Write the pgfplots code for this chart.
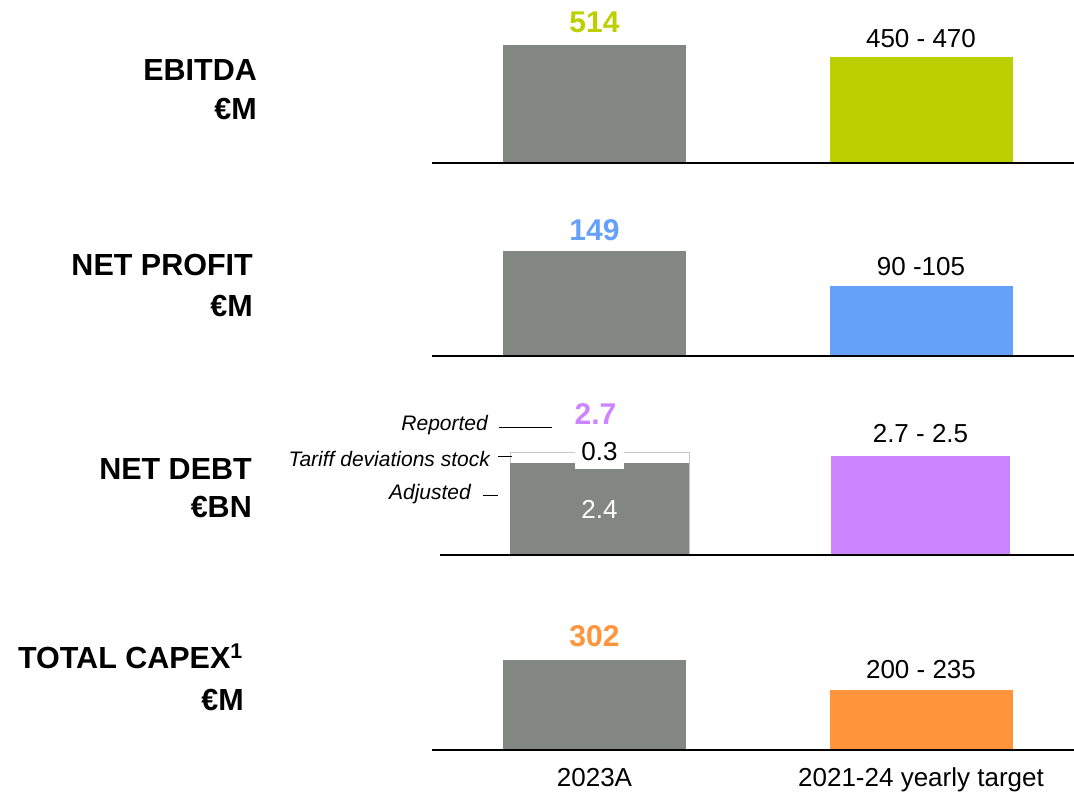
\documentclass[border=0pt]{standalone}
\usepackage{fontspec}
\setmainfont{Liberation Sans}
\usepackage{pgfplots}
\pgfplotsset{compat=1.18}
\definecolor{bargray}{RGB}{131,135,132}
\definecolor{ebgreen}{RGB}{188,208,0}
\definecolor{npblue}{RGB}{102,161,249}
\definecolor{ndpurple}{RGB}{204,133,255}
\definecolor{cxorange}{RGB}{255,148,59}
\newcommand\valfont{\fontsize{30}{36}\selectfont\bfseries}
\newcommand\rngfont{\fontsize{26}{31}\selectfont}
\newcommand\catfont{\fontsize{30.5}{36}\selectfont\bfseries}
\newcommand\annfont{\fontsize{21}{25}\selectfont\itshape}
\pgfplotsset{panel/.style={
  scale only axis, clip=false, axis on top,
  anchor=south west, ybar,
  axis x line=bottom, axis y line=none,
  axis line style={-, line width=2pt, black},
  xtick=\empty, ytick=\empty, ymin=0,
}}
\begin{document}
\begin{tikzpicture}[x=1pt,y=1pt]
\useasboundingbox (0,0) rectangle (1074,-792);
% EBITDA
\begin{axis}[panel, at={(432pt,-162.7pt)}, width=642pt, height=137.4pt,
  xmin=-0.4977, xmax=1.4686, ymax=600, bar width=0.5605]
\addplot[fill=bargray, draw=none, bar shift=0pt] coordinates {(0,514)};
\addplot[fill=ebgreen, draw=none, bar shift=0pt] coordinates {(1,460)};
\node[anchor=base, yshift=12.7pt, font=\valfont, text=ebgreen] at (axis cs:0,514) {514};
\node[anchor=base, yshift=10pt, font=\rngfont] at (axis cs:1,460) {450 - 470};
\end{axis}
% NET PROFIT
\begin{axis}[panel, at={(432pt,-356pt)}, width=642pt, height=126.8pt,
  xmin=-0.4977, xmax=1.4686, ymax=180, bar width=0.5605]
\addplot[fill=bargray, draw=none, bar shift=0pt] coordinates {(0,149)};
\addplot[fill=npblue, draw=none, bar shift=0pt] coordinates {(1,99)};
\node[anchor=base, yshift=11pt, font=\valfont, text=npblue] at (axis cs:0,149) {149};
\node[anchor=base, yshift=11pt, font=\rngfont] at (axis cs:1,99) {90 -105};
\end{axis}
% NET DEBT
\begin{axis}[panel, at={(440pt,-554.5pt)}, width=634pt, height=121.5pt,
  xmin=-0.4969, xmax=1.4782, ymax=3.2, bar width=0.5576]
\addplot[fill=white, draw=gray!45, line width=0.8pt, bar shift=0pt] coordinates {(0,2.7)};
\addplot[fill=bargray, draw=none, bar shift=0pt] coordinates {(0,2.4)};
\addplot[fill=ndpurple, draw=none, bar shift=0pt] coordinates {(1,2.6)};
\node[anchor=base, fill=white, inner xsep=6.5pt, inner ysep=8.3pt, font=\rngfont] at (axis cs:0,2.471) {0.3};
\node[anchor=base, text=white, font=\rngfont] at (axis cs:0,0.96) {2.4};
\node[anchor=base, xshift=-4pt, yshift=27pt, font=\valfont, text=ndpurple] at (axis cs:0,2.7) {2.7};
\node[anchor=base, yshift=13pt, font=\rngfont] at (axis cs:1,2.6) {2.7 - 2.5};
\end{axis}
% TOTAL CAPEX
\begin{axis}[panel, at={(432pt,-750pt)}, width=642pt, height=107.3pt,
  xmin=-0.4977, xmax=1.4686, ymax=360, bar width=0.5605,
  xtick={0,1}, xticklabels={2023A,2021-24 yearly target}, major tick length=0pt,
  xticklabel style={anchor=base, yshift=-36pt, font=\rngfont}]
\addplot[fill=bargray, draw=none, bar shift=0pt] coordinates {(0,302)};
\addplot[fill=cxorange, draw=none, bar shift=0pt] coordinates {(1,200)};
\node[anchor=base, yshift=13pt, font=\valfont, text=cxorange] at (axis cs:0,302) {302};
\node[anchor=base, yshift=12pt, font=\rngfont] at (axis cs:1,200) {200 - 235};
\end{axis}
% category labels
\node[anchor=base east, font=\catfont, inner sep=0pt] at (257,-81) {EBITDA};
\node[anchor=base east, font=\catfont, inner sep=0pt] at (257,-119) {€M};
\node[anchor=base east, font=\catfont, inner sep=0pt] at (253,-275) {NET PROFIT};
\node[anchor=base east, font=\catfont, inner sep=0pt] at (253,-316) {€M};
\node[anchor=base east, font=\catfont, inner sep=0pt] at (252,-479) {NET DEBT};
\node[anchor=base east, font=\catfont, inner sep=0pt] at (252,-517) {€BN};
\node[anchor=base east, font=\catfont, inner sep=0pt] at (243,-668) {TOTAL CAPEX\textsuperscript{1}};
\node[anchor=base east, font=\catfont, inner sep=0pt] at (244,-710) {€M};
% annotations
\node[anchor=base east, font=\annfont, inner sep=0pt] at (488,-430) {Reported};
\draw[line width=1pt] (499,-427) -- (552,-427);
\node[anchor=base east, font=\annfont, inner sep=0pt] at (490,-466) {Tariff deviations stock};
\draw[line width=1pt] (498,-456.7) -- (512,-456.7);
\node[anchor=base east, font=\annfont, inner sep=0pt] at (471,-499) {Adjusted};
\draw[line width=1pt] (483,-495) -- (498,-495);
\end{tikzpicture}
\end{document}
